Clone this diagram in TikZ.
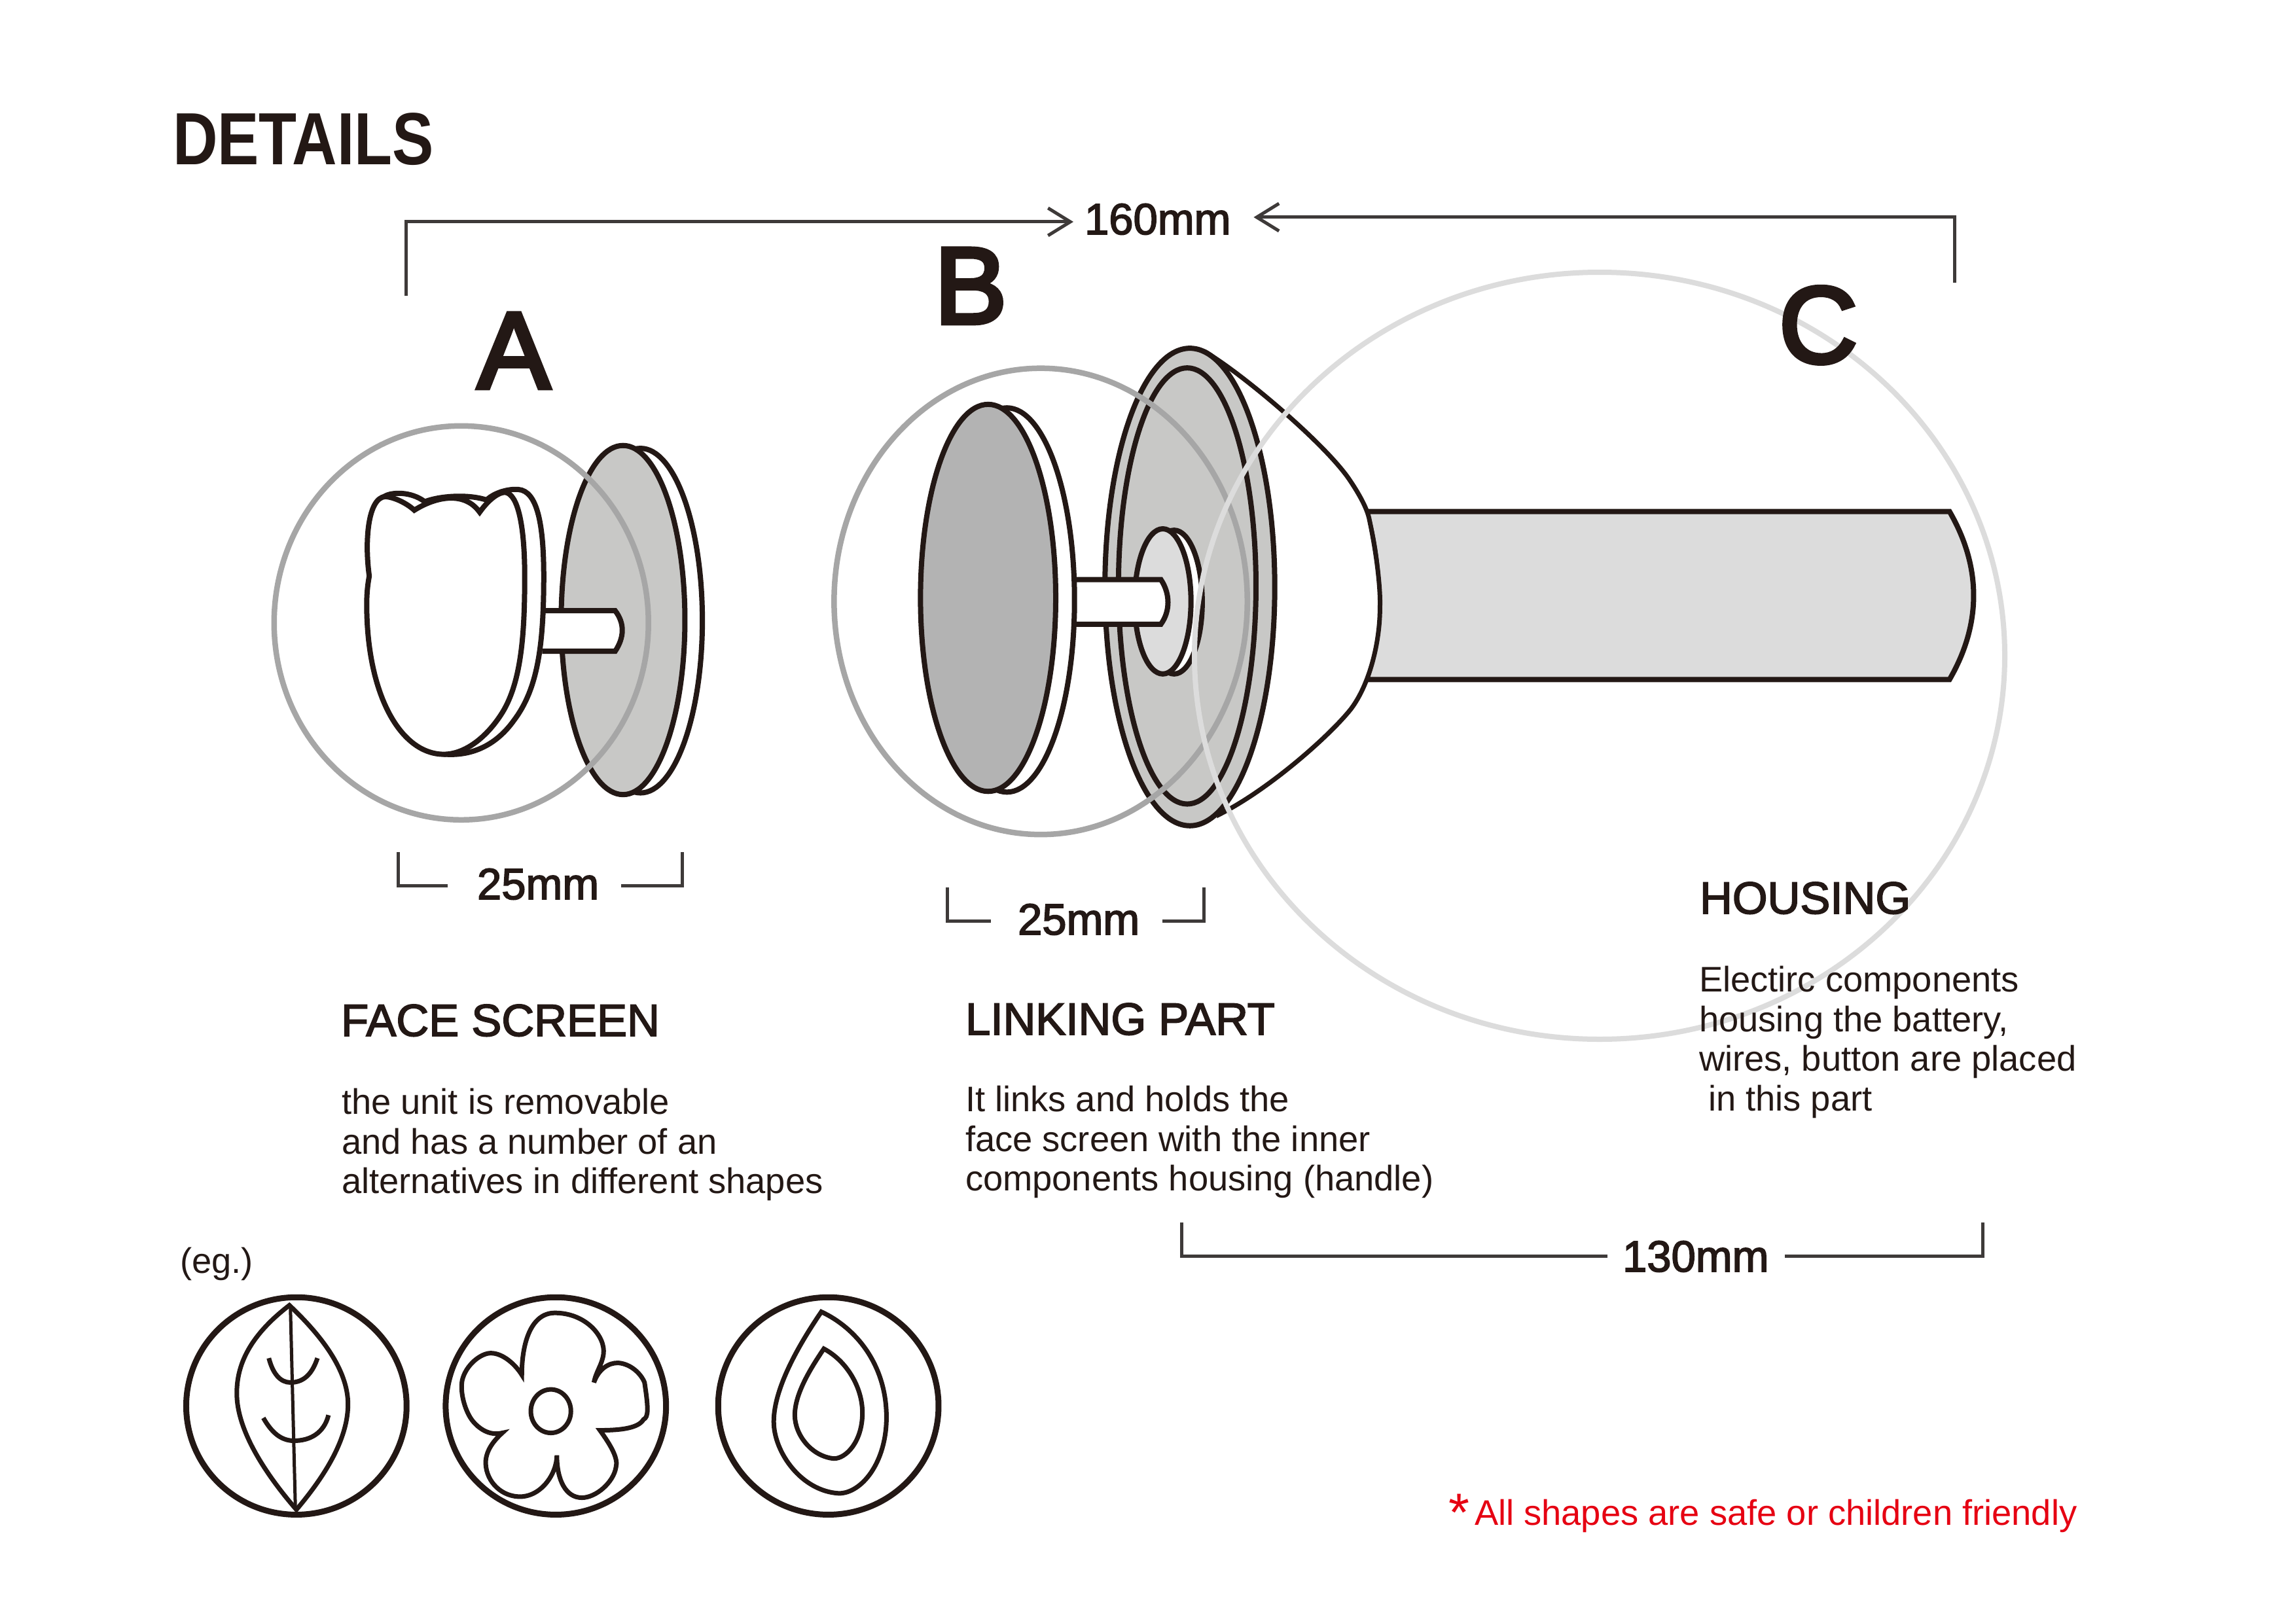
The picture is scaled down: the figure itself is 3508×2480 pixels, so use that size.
\documentclass[tikz,border=0pt]{standalone}
\usepackage{fontspec}
\setmainfont{Liberation Sans}
\newfontfamily\medfont[FakeBold=2.5]{Liberation Sans}
\newfontfamily\bigfont[FakeBold=4]{Liberation Sans}
\usetikzlibrary{arrows.meta}
\definecolor{ink}{HTML}{231815}
\definecolor{dimc}{HTML}{3E3A39}
\definecolor{redc}{HTML}{E60012}
\definecolor{discg}{HTML}{C8C8C6}
\definecolor{plateg}{HTML}{B3B3B3}
\definecolor{lightg}{HTML}{DCDCDC}
\definecolor{ringA}{HTML}{A6A6A6}
\newcommand{\fsz}[1]{\fontsize{#1}{#1}\selectfont}
\newcommand{\parafont}{\fontsize{54.3}{60.7}\selectfont}
\tikzset{
  part/.style={draw=ink,line width=8pt,line join=miter,fill=white},
  icon/.style={draw=ink,line width=7pt,line join=miter},
  ringicon/.style={draw=ink,line width=9pt},
  ring/.style={line width=8.5pt},
  dimline/.style={draw=dimc,line width=5pt},
  barb/.style={-{Straight Barb[length=34pt,width=42pt,line width=5pt]}},
  txt/.style={text=ink,inner sep=0pt,outer sep=0pt,anchor=base west},
  para/.style={text=ink,inner sep=0pt,outer sep=0pt,anchor=north west,align=left,font=\parafont},
  head/.style={txt,font=\medfont\fsz{69}},
  bigl/.style={text=ink,inner sep=0pt,outer sep=0pt,anchor=base,font=\bigfont\fsz{166}},
  dimt/.style={txt,font=\medfont\fsz{67}},
  zoomA/.style={shift={(380,620)},x=0.4847pt,y=-0.4337pt},
  zoomB/.style={shift={(1260,500)},x=0.574pt,y=-0.5357pt},
  zoomC/.style={shift={(260,1953)},x=0.7653pt,y=-0.3322pt},
  zoomD/.style={shift={(2000,700)},x=0.7015pt,y=-0.3333pt}
}
\begin{document}
\begin{tikzpicture}[x=1pt,y=-1pt]
\useasboundingbox (0,0) rectangle (3508,2480);
\fill[white] (0,0) rectangle (3508,2480);

% --- part A
\begin{scope}[zoomA]
  \path[part] (1235,757) ellipse [x radius=195,y radius=607];
  \path[part,fill=discg] (1180,755) ellipse [x radius=195,y radius=615];
  \path[part] (925,722) -- (1155,722) .. controls (1185,765) and (1185,815) .. (1155,865) -- (925,865);
  % back of tulip
  \path[part] (430,318) .. controls (450,305) and (510,300) .. (555,338)
    .. controls (600,318) and (690,310) .. (750,332)
    .. controls (775,305) and (820,292) .. (850,295)
    .. controls (910,300) and (930,420) .. (930,600)
    .. controls (930,850) and (910,1000) .. (835,1110)
    .. controls (790,1180) and (720,1235) .. (620,1228) -- cycle;
  % front of tulip
  \path[part] (380,600) .. controls (365,480) and (375,325) .. (430,320)
    .. controls (460,322) and (500,345) .. (522,368)
    .. controls (590,320) and (680,300) .. (728,375)
    .. controls (760,325) and (790,305) .. (808,305)
    .. controls (850,310) and (870,430) .. (870,600)
    .. controls (870,800) and (860,970) .. (800,1080)
    .. controls (750,1170) and (680,1228) .. (615,1228)
    .. controls (480,1228) and (372,1020) .. (372,700)
    .. controls (372,660) and (375,630) .. (380,600) -- cycle;
  \draw[ringA,ring] (670,765) ellipse [x radius=590,y radius=694];
\end{scope}

% --- part C handle and cone
\begin{scope}[zoomD]
  \path[part,fill=lightg,line width=8pt] (125,245) -- (1395,245)
    .. controls (1465,500) and (1465,760) .. (1395,1015) -- (125,1015)
    .. controls (160,800) and (160,500) .. (125,245) -- cycle;
\end{scope}
\begin{scope}[zoomB]
  \path[part,line width=7pt] (1020,75) .. controls (1120,140) and (1340,340) .. (1400,440)
    .. controls (1425,480) and (1445,520) .. (1450,550)
    .. controls (1470,650) and (1480,750) .. (1478,800)
    .. controls (1478,900) and (1450,1020) .. (1400,1090)
    .. controls (1340,1170) and (1180,1320) .. (1050,1390) -- cycle;
  % linking part
  \path[part,fill=discg] (972,741) ellipse [x radius=226,y radius=681];
  \path[part,fill=discg] (965,738) ellipse [x radius=183,y radius=622];
  \path[part] (930,784) ellipse [x radius=75,y radius=205];
  \path[part,fill=lightg] (900,782) ellipse [x radius=75,y radius=207];
  \path[part] (665,720) -- (895,720) .. controls (920,760) and (920,810) .. (895,847) -- (665,847);
  \path[part] (485,778) ellipse [x radius=180,y radius=548];
  \path[part,fill=plateg] (435,772) ellipse [x radius=180,y radius=552];
  \draw[ringA,ring] (575,782) ellipse [x radius=550,y radius=665];
\end{scope}
\draw[lightg,line width=8pt] (2444,1002) ellipse [x radius=619,y radius=586];

% --- icons
\begin{scope}[zoomC]
  \draw[ringicon] (252,588) ellipse [x radius=220,y radius=500];
  \draw[ringicon] (770,588) ellipse [x radius=220,y radius=500];
  \draw[ringicon] (1314,588) ellipse [x radius=220,y radius=500];
  % leaf
  \draw[icon] (238,125) .. controls (150,280) and (133,420) .. (133,530)
    .. controls (133,700) and (190,900) .. (252,1065)
    .. controls (320,880) and (355,720) .. (355,580)
    .. controls (355,420) and (300,260) .. (238,125) -- cycle;
  \draw[icon,line width=5pt] (240,130) -- (250,1060);
  \draw[icon] (197,368) .. controls (205,440) and (220,480) .. (240,480)
    .. controls (270,480) and (285,430) .. (294,368);
  \draw[icon] (186,643) .. controls (205,720) and (225,750) .. (250,748)
    .. controls (290,745) and (310,690) .. (316,630);
  % flower
  \draw[icon] (702,445) .. controls (702,300) and (720,160) .. (768,160)
    .. controls (830,160) and (870,270) .. (865,350)
    .. controls (862,400) and (850,430) .. (846,480)
    .. controls (855,420) and (875,388) .. (895,390)
    .. controls (920,395) and (940,440) .. (947,480)
    .. controls (955,600) and (955,640) .. (945,650)
    .. controls (935,690) and (900,700) .. (858,700)
    .. controls (880,770) and (895,830) .. (890,870)
    .. controls (885,940) and (850,1010) .. (822,1010)
    .. controls (790,1010) and (772,930) .. (772,815)
    .. controls (772,900) and (740,1010) .. (695,1005)
    .. controls (655,1000) and (628,920) .. (630,840)
    .. controls (632,790) and (645,750) .. (663,712)
    .. controls (640,725) and (620,700) .. (605,660)
    .. controls (590,620) and (578,530) .. (583,470)
    .. controls (590,400) and (620,345) .. (640,345)
    .. controls (665,345) and (690,400) .. (702,445) -- cycle;
  \draw[icon] (760,612) ellipse [x radius=40,y radius=100];
  % drop
  \draw[icon] (1300,155) .. controls (1370,230) and (1430,400) .. (1430,640)
    .. controls (1430,850) and (1380,990) .. (1335,990)
    .. controls (1260,980) and (1205,800) .. (1205,660)
    .. controls (1205,500) and (1260,290) .. (1300,155) -- cycle;
  \draw[icon] (1305,325) .. controls (1350,380) and (1382,500) .. (1382,620)
    .. controls (1382,750) and (1350,830) .. (1325,830)
    .. controls (1280,820) and (1247,720) .. (1247,630)
    .. controls (1247,530) and (1280,410) .. (1305,325) -- cycle;
\end{scope}

% --- texts
\node[txt,font=\bfseries\fsz{113}] (title) at (264,252) {\scalebox{.84}[1]{DETAILS}};
\node[bigl] (lA) at (785,593) {A};
\node[bigl] (lB) at (1483,494) {B};
\node[bigl] (lC) at (2778,554) {C};

\node[dimt] (d160) at (1657,358) {160mm};
\node[dimt] (d25a) at (729,1374) {25mm};
\node[dimt] (d25b) at (1555,1428) {25mm};
\node[dimt] (d130) at (2479,1943) {130mm};

\node[head] (hA) at (521,1583) {FACE SCREEN};
\node[head] (hB) at (1475,1581) {LINKING PART};
\node[head] (hC) at (2597,1396) {HOUSING};

\node[para] (pA) at (522,1663) {the unit is removable\\and has a number of an\\alternatives in different shapes};
\node[para] (pB) at (1475,1659) {It links and holds the\\face screen with the inner\\components housing (handle)};
\node[para] (pC) at (2596,1476) {Electirc components\\housing the battery,\\wires, button are placed\\\hspace*{14pt}in this part};
\node[txt,font=\fsz{54.3}] (eg) at (275,1945) {(eg.)};
\node[txt,text=redc,font=\fsz{82}] (star) at (2213,2339) {*};
\node[txt,text=redc,font=\fsz{54.3}] (note) at (2253,2330) {All shapes are safe or children friendly};

% --- dimension lines
\coordinate (a160) at (620,452);
\coordinate (b160) at (2986,432);
\coordinate (a25a) at (608,1302);
\coordinate (b25a) at (1042,1302);
\coordinate (a25b) at (1447,1356);
\coordinate (b25b) at (1839,1356);
\coordinate (a130) at (1805,1868);
\coordinate (b130) at (3029,1868);
\draw[dimline,barb] (a160) |- ([xshift=-17pt,yshift=-4pt]d160.west);
\draw[dimline,barb] (b160) |- ([xshift=35pt,yshift=3pt]d160.east);
\draw[dimline] (a25a) |- ([xshift=-45pt,yshift=-3pt]d25a.west);
\draw[dimline] (b25a) |- ([xshift=34pt,yshift=-3pt]d25a.east);
\draw[dimline] (a25b) |- ([xshift=-41pt,yshift=-3pt]d25b.west);
\draw[dimline] (b25b) |- ([xshift=35pt,yshift=-3pt]d25b.east);
\draw[dimline] (a130) |- ([xshift=-23pt]d130.west);
\draw[dimline] (b130) |- ([xshift=25pt]d130.east);
\end{tikzpicture}
\end{document}
